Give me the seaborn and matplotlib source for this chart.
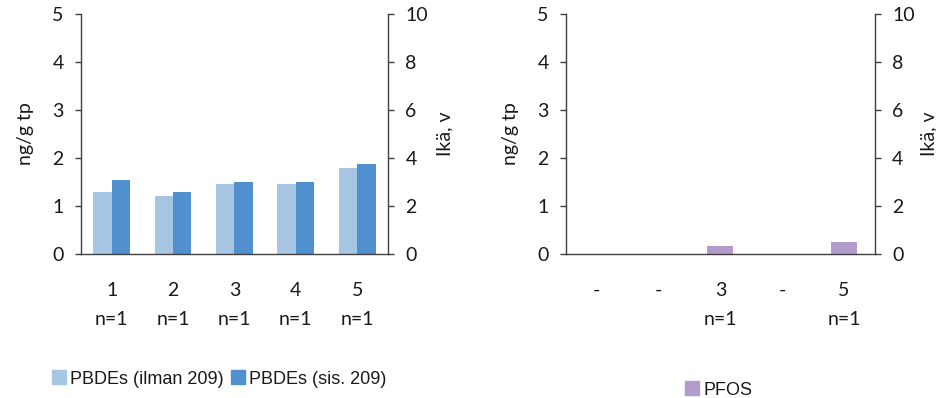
import seaborn as sns
import matplotlib.pyplot as plt
import pandas as pd
import numpy as np

# data
categories = ["1", "2", "3", "4", "5"]
pbde_ilman = [1.29, 1.21, 1.46, 1.46, 1.79]
pbde_sis = [1.54, 1.29, 1.50, 1.50, 1.875]
left_ticklabels = ["1\nn=1", "2\nn=1", "3\nn=1", "4\nn=1", "5\nn=1"]

pfos = [np.nan, np.nan, 0.17, np.nan, 0.25]
right_ticklabels = ["-\n ", "-\n ", "3\nn=1", "-\n ", "5\nn=1"]

series_names = ["PBDEs (ilman 209)", "PBDEs (sis. 209)"]
colors = ["#A6C6E3", "#5090CE"]
pfos_color = "#B19CCB"

sns.set_style("white")
plt.rcParams['font.family'] = ['Lato', 'DejaVu Sans']

df_left = pd.DataFrame({
    "cat": categories * 2,
    "val": pbde_ilman + pbde_sis,
    "series": [series_names[0]] * 5 + [series_names[1]] * 5,
})
df_right = pd.DataFrame({"cat": categories, "val": pfos})

fig = plt.figure(figsize=(9.36, 3.98), dpi=100)
ax1 = fig.add_axes([0.0865, 0.3618, 0.328, 0.603])
ax2 = fig.add_axes([0.6047, 0.3618, 0.330, 0.603])

sns.barplot(data=df_left, x="cat", y="val", hue="series", palette=colors,
            width=0.6, saturation=1, linewidth=0, ax=ax1, legend=False)
sns.barplot(data=df_right, x="cat", y="val", color=pfos_color,
            width=0.42, saturation=1, linewidth=0, ax=ax2)

spine_col = "#404040"
txt_col = "#1a1a1a"
fs = 14


def style_axes(ax, ticklabels, rpad):
    ax.set_xlim(-0.5, 4.5)
    ax.set_ylim(0, 5)
    ax.set_yticks([0, 1, 2, 3, 4, 5])
    ax.set_xticks(range(5))
    ax.set_xticklabels(ticklabels, linespacing=1.85)
    ax.set_xlabel("")
    ax.set_ylabel("ng/g tp", fontsize=fs, labelpad=13, color=txt_col)
    for s in ["top", "right"]:
        ax.spines[s].set_visible(False)
    for s in ["left", "bottom"]:
        ax.spines[s].set_color(spine_col)
        ax.spines[s].set_linewidth(1)
    ax.tick_params(axis="y", left=True, length=4.5, width=1, color=spine_col,
                   labelsize=fs, pad=8, labelcolor=txt_col)
    ax.tick_params(axis="x", bottom=False, length=0, labelsize=fs, pad=20,
                   labelcolor=txt_col)
    tw = ax.twinx()
    tw.set_ylim(0, 10)
    tw.set_yticks([0, 2, 4, 6, 8, 10])
    tw.set_ylabel("Ikä, v", fontsize=fs, labelpad=rpad, color=txt_col)
    for s in ["top", "left", "bottom"]:
        tw.spines[s].set_visible(False)
    tw.spines["right"].set_color(spine_col)
    tw.spines["right"].set_linewidth(1)
    tw.tick_params(axis="y", right=True, length=4.5, width=1, color=spine_col,
                   labelsize=fs, pad=8, labelcolor=txt_col)
    return tw


style_axes(ax1, left_ticklabels, 6)
style_axes(ax2, right_ticklabels, 4)

leg_font = {"family": "Liberation Sans", "size": 13}
handles_left = [plt.Rectangle((0, 0), 1, 1, color=c) for c in colors]
fig.legend(handles_left, series_names, loc="center left",
           bbox_to_anchor=(0.0556, 0.0477), ncol=2, frameon=False,
           prop=leg_font, labelcolor=txt_col,
           handlelength=0.8, handleheight=0.8, handletextpad=0.2,
           columnspacing=0.4, borderpad=0, borderaxespad=0)
fig.legend([plt.Rectangle((0, 0), 1, 1, color=pfos_color)], ["PFOS"],
           loc="center left", bbox_to_anchor=(0.7318, 0.0201), frameon=False,
           prop=leg_font, labelcolor=txt_col,
           handlelength=0.8, handleheight=0.8, handletextpad=0.2,
           borderpad=0, borderaxespad=0)

fig.savefig("out.png", dpi=100)
